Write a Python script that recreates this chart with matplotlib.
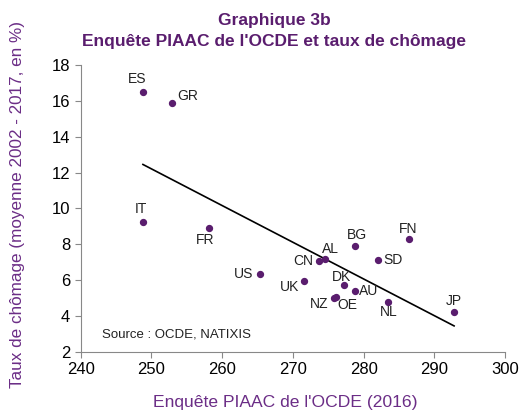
import numpy as np
import matplotlib
matplotlib.use("Agg")
import matplotlib.pyplot as plt

plt.rcParams["font.family"] = ["Liberation Sans", "DejaVu Sans"]

countries = ["ES", "GR", "IT", "FR", "US", "UK", "CN", "AL", "DK",
             "NZ", "OE", "AU", "BG", "SD", "FN", "NL", "JP"]
piaac = [248.8, 252.9, 248.8, 258.1, 265.4, 271.6, 273.7, 274.6, 277.3,
         275.8, 276.1, 278.8, 278.8, 282.0, 286.4, 283.5, 292.8]
chomage = [16.51, 15.90, 9.24, 8.90, 6.33, 5.96, 7.08, 7.15, 5.72,
           5.01, 5.07, 5.40, 7.92, 7.13, 8.27, 4.79, 4.21]

# label offsets in points (dx, dy, ha)
offsets = {
    "ES": (-4, 9, "center"), "GR": (4, 4.5, "left"), "IT": (-1.5, 9.5, "center"),
    "FR": (-2.5, -8.5, "center"), "US": (-5, 0, "right"), "UK": (-3.5, -4.5, "right"),
    "CN": (-4.5, 0, "right"), "AL": (3.5, 7.5, "center"), "DK": (-2, 5.5, "center"),
    "NZ": (-4, -4.5, "right"), "OE": (1, -6, "left"), "AU": (3, 0, "left"),
    "BG": (1.2, 7.5, "center"), "SD": (4, -0.5, "left"), "FN": (-0.7, 7.5, "center"),
    "NL": (0.5, -7.5, "center"), "JP": (0, 8, "center"),
}

purple = "#5a1d6e"
text_purple = "#6b2d86"

fig = plt.figure(figsize=(5.21, 4.18), dpi=100)
ax = fig.add_axes([80.7 / 521, 1 - 351.7 / 418, (505 - 80.7) / 521, (351.7 - 65) / 418])

ax.scatter(piaac, chomage, s=18, color=purple, zorder=3)

x = np.array(piaac)
y = np.array(chomage)
a, b = np.polyfit(x, y, 1)
xs = np.array([x.min(), x.max()])
ax.plot(xs, a * xs + b, color="black", linewidth=1.2, zorder=2)

for c, px, py in zip(countries, piaac, chomage):
    dx, dy, ha = offsets[c]
    ax.annotate(c, (px, py), xytext=(dx, dy), textcoords="offset points",
                ha=ha, va="center", fontsize=10, color="#222222")

ax.text(0.05, 0.06, "Source : OCDE, NATIXIS", transform=ax.transAxes,
        fontsize=9.5, va="center", ha="left", color="#222222")

ax.set_xlim(240, 300)
ax.set_ylim(2, 18)
ax.set_xticks(range(240, 301, 10))
ax.set_yticks(range(2, 19, 2))
ax.tick_params(labelsize=12, length=4, color="#888888", direction="out")
for s in ["top", "right"]:
    ax.spines[s].set_visible(False)
for s in ["left", "bottom"]:
    ax.spines[s].set_color("#888888")

fig.text(274 / 521, 1 - 21 / 418, "Graphique 3b", ha="center", va="center",
         fontsize=12.5, fontweight="bold", color=purple)
fig.text(274 / 521, 1 - 41.5 / 418, "Enquête PIAAC de l'OCDE et taux de chômage",
         ha="center", va="center", fontsize=12.5, fontweight="bold", color=purple)
fig.text(285 / 521, 1 - 403 / 418, "Enquête PIAAC de l'OCDE (2016)", ha="center",
         va="center", fontsize=12.6, color=text_purple)
fig.text(18 / 521, 1 - 205 / 418, "Taux de chômage (moyenne 2002 - 2017, en %)",
         ha="center", va="center", rotation=90, fontsize=12.3, color=text_purple)

fig.savefig("out.png", dpi=100)
